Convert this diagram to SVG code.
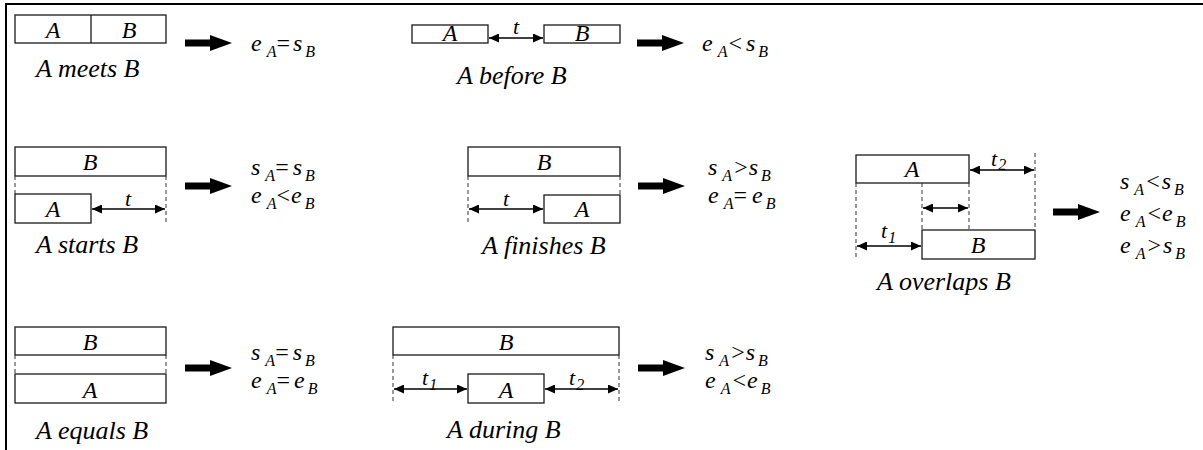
<svg xmlns="http://www.w3.org/2000/svg" width="1203" height="450" viewBox="0 0 1203 450" font-family="Liberation Serif, serif">
<style>
text{font-family:'Liberation Serif',serif;font-style:italic;fill:#000}
.lbl{font-size:26px}
.in{font-size:24px;text-anchor:middle}
.f{font-size:24px}
.sub{font-size:16px}
.op{font-style:normal}
.tl{font-size:22px}
.box{fill:#fff;stroke:#1a1a1a;stroke-width:1.3}
.dash{stroke:#333;stroke-width:1;stroke-dasharray:4 3;fill:none}
.dim{stroke:#000;stroke-width:1.3;fill:none;marker-start:url(#ah);marker-end:url(#ah)}
.big{fill:#000}
</style>
<defs>
<marker id="ah" viewBox="0 0 10 10" refX="10" refY="5" markerWidth="10" markerHeight="9" markerUnits="userSpaceOnUse" orient="auto-start-reverse" preserveAspectRatio="none">
<path d="M0,0 L10,5 L0,10 Z" fill="#000"/>
</marker>
<path id="bigArrow" d="M0,-3.5 H25 V-8 L47,0 L25,8 V3.5 H0 Z"/>
</defs>
<rect x="0" y="0" width="1203" height="450" fill="#fff"/>
<g id="frame">
<rect x="5" y="3" width="1198" height="2" fill="#000"/>
<rect x="5" y="3" width="2" height="447" fill="#000"/>
</g>

<g id="meets">
<rect class="box" x="15" y="15" width="151" height="28"/>
<line x1="91" y1="15" x2="91" y2="43" stroke="#1a1a1a" stroke-width="1.3"/>
<text class="in" x="53" y="38">A</text>
<text class="in" x="129" y="38">B</text>
<text class="lbl" x="36" y="77">A meets B</text>
</g>

<g id="before">
<rect class="box" x="412" y="25" width="76" height="18"/>
<rect class="box" x="544" y="25" width="76" height="18"/>
<text class="in" x="450" y="41">A</text>
<text class="in" x="582" y="41">B</text>
<text class="tl" x="513" y="34">t</text>
<text class="lbl" x="457" y="84">A before B</text>
</g>

<g id="starts">
<rect class="box" x="15" y="147" width="151" height="29"/>
<rect class="box" x="15" y="194" width="76" height="29"/>
<text class="in" x="90" y="170">B</text>
<text class="in" x="53" y="217">A</text>
<text class="tl" x="125" y="206">t</text>
<text class="lbl" x="36" y="253">A starts B</text>
</g>

<g id="finishes">
<rect class="box" x="468" y="147" width="152" height="29"/>
<rect class="box" x="544" y="195" width="76" height="28"/>
<text class="in" x="544" y="170">B</text>
<text class="in" x="582" y="217">A</text>
<text class="tl" x="503" y="206">t</text>
<text class="lbl" x="482" y="254">A finishes B</text>
</g>

<g id="overlaps">
<rect class="box" x="856" y="155" width="113" height="28"/>
<rect class="box" x="922" y="230" width="113" height="29"/>
<text class="in" x="912" y="177">A</text>
<text class="in" x="978" y="253">B</text>
<text class="tl" x="991" y="166">t<tspan class="sub" dx="1" dy="4">2</tspan></text>
<text class="tl" x="881" y="238">t<tspan class="sub" dx="1" dy="5">1</tspan></text>
<text class="lbl" x="877" y="290">A overlaps B</text>
</g>

<g id="equals">
<rect class="box" x="15" y="327" width="151" height="28"/>
<rect class="box" x="15" y="374" width="151" height="29"/>
<text class="in" x="90" y="350">B</text>
<text class="in" x="90" y="398">A</text>
<text class="lbl" x="36" y="439">A equals B</text>
</g>

<g id="during">
<rect class="box" x="393" y="327" width="226" height="28"/>
<rect class="box" x="468" y="374" width="76" height="29"/>
<text class="in" x="506" y="350">B</text>
<text class="in" x="506" y="398">A</text>
<text class="tl" x="422" y="385">t<tspan class="sub" dx="1" dy="5">1</tspan></text>
<text class="tl" x="569" y="385">t<tspan class="sub" dx="1" dy="5">2</tspan></text>
<text class="lbl" x="447" y="438">A during B</text>
</g>

<g id="connectors">
<line class="dim" x1="489" y1="38" x2="543" y2="38"/>
<line class="dash" x1="15" y1="176" x2="15" y2="194"/>
<line class="dash" x1="166" y1="176" x2="166" y2="223"/>
<line class="dim" x1="92" y1="209" x2="165" y2="209"/>
<line class="dash" x1="468" y1="176" x2="468" y2="223"/>
<line class="dash" x1="620" y1="176" x2="620" y2="195"/>
<line class="dim" x1="469" y1="209" x2="543" y2="209"/>
<line class="dash" x1="856" y1="183" x2="856" y2="259"/>
<line class="dash" x1="922" y1="183" x2="922" y2="230"/>
<line class="dash" x1="969" y1="183" x2="969" y2="230"/>
<line class="dash" x1="1035" y1="153" x2="1035" y2="230"/>
<line class="dim" x1="970" y1="170" x2="1034" y2="170"/>
<line class="dim" x1="923" y1="208" x2="968" y2="208"/>
<line class="dim" x1="857" y1="246" x2="921" y2="246"/>
<line class="dash" x1="15" y1="355" x2="15" y2="374"/>
<line class="dash" x1="166" y1="355" x2="166" y2="374"/>
<line class="dash" x1="393" y1="355" x2="393" y2="403"/>
<line class="dash" x1="619" y1="355" x2="619" y2="403"/>
<line class="dim" x1="394" y1="389" x2="467" y2="389"/>
<line class="dim" x1="545" y1="389" x2="618" y2="389"/>
<use href="#bigArrow" class="big" transform="translate(185,43)"/>
<use href="#bigArrow" class="big" transform="translate(637,43)"/>
<use href="#bigArrow" class="big" transform="translate(185,186)"/>
<use href="#bigArrow" class="big" transform="translate(638,186)"/>
<use href="#bigArrow" class="big" transform="translate(1053,212)"/>
<use href="#bigArrow" class="big" transform="translate(185,368)"/>
<use href="#bigArrow" class="big" transform="translate(638,368)"/>
</g>

<g id="formulas">
<text class="f" x="251" y="51">e<tspan class="sub" dx="5" dy="6">A</tspan><tspan class="op" dy="-6">=</tspan><tspan dx="3">s</tspan><tspan class="sub" dx="3" dy="6">B</tspan></text>
<text class="f" x="702" y="51">e<tspan class="sub" dx="5" dy="6">A</tspan><tspan class="op" dx="1" dy="-6">&lt;</tspan><tspan dx="4">s</tspan><tspan class="sub" dx="3" dy="6">B</tspan></text>
<text class="f" x="251" y="175">s<tspan class="sub" dx="5" dy="6">A</tspan><tspan class="op" dy="-6">=</tspan><tspan dx="4">s</tspan><tspan class="sub" dx="3" dy="6">B</tspan></text>
<text class="f" x="251" y="203">e<tspan class="sub" dx="5" dy="6">A</tspan><tspan class="op" dy="-6">&lt;</tspan><tspan dx="1">e</tspan><tspan class="sub" dx="3" dy="6">B</tspan></text>
<text class="f" x="708" y="175">s<tspan class="sub" dx="5" dy="6">A</tspan><tspan class="op" dx="2" dy="-6">&gt;</tspan><tspan dx="1">s</tspan><tspan class="sub" dx="3" dy="6">B</tspan></text>
<text class="f" x="708" y="203">e<tspan class="sub" dx="5" dy="6">A</tspan><tspan class="op" dy="-6">=</tspan><tspan dx="5">e</tspan><tspan class="sub" dx="3" dy="6">B</tspan></text>
<text class="f" x="1120" y="189">s<tspan class="sub" dx="5" dy="6">A</tspan><tspan class="op" dx="2" dy="-6">&lt;</tspan><tspan dx="2">s</tspan><tspan class="sub" dx="3" dy="6">B</tspan></text>
<text class="f" x="1120" y="221">e<tspan class="sub" dx="5" dy="6">A</tspan><tspan class="op" dx="2" dy="-6">&lt;</tspan><tspan dx="1">e</tspan><tspan class="sub" dx="3" dy="6">B</tspan></text>
<text class="f" x="1120" y="253">e<tspan class="sub" dx="5" dy="6">A</tspan><tspan class="op" dx="2" dy="-6">&gt;</tspan><tspan dx="2">s</tspan><tspan class="sub" dx="3" dy="6">B</tspan></text>
<text class="f" x="251" y="360">s<tspan class="sub" dx="5" dy="6">A</tspan><tspan class="op" dy="-6">=</tspan><tspan dx="4">s</tspan><tspan class="sub" dx="3" dy="6">B</tspan></text>
<text class="f" x="251" y="388">e<tspan class="sub" dx="5" dy="6">A</tspan><tspan class="op" dy="-6">=</tspan><tspan dx="4">e</tspan><tspan class="sub" dx="3" dy="6">B</tspan></text>
<text class="f" x="705" y="360">s<tspan class="sub" dx="5" dy="6">A</tspan><tspan class="op" dx="2" dy="-6">&gt;</tspan><tspan dx="1">s</tspan><tspan class="sub" dx="3" dy="6">B</tspan></text>
<text class="f" x="705" y="388">e<tspan class="sub" dx="5" dy="6">A</tspan><tspan class="op" dx="2" dy="-6">&lt;</tspan><tspan dx="1">e</tspan><tspan class="sub" dx="3" dy="6">B</tspan></text>
</g>
</svg>
